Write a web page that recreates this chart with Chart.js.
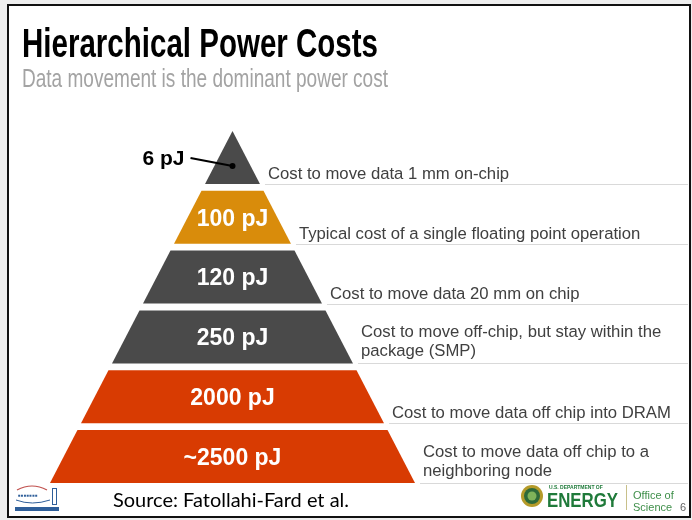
<!DOCTYPE html>
<html><head><meta charset="utf-8">
<script src="https://cdn.jsdelivr.net/npm/chart.js@4.4.1/dist/chart.umd.min.js"></script>
<style>html,body{margin:0;padding:0;background:#eeeeee;overflow:hidden}canvas{display:block}</style>
</head><body>
<canvas id="c" width="692" height="520"></canvas>
<script>
// ---- data (top of pyramid first) ----
const energyLabels = ['6 pJ', '100 pJ', '120 pJ', '250 pJ', '2000 pJ', '~2500 pJ'];
const energyValues = [6, 100, 120, 250, 2000, 2500];
const descriptions = [
  ['Cost to move data 1 mm on-chip'],
  ['Typical cost of a single floating point operation'],
  ['Cost to move data 20 mm on chip'],
  ['Cost to move off-chip, but stay within the', 'package (SMP)'],
  ['Cost to move data off chip into DRAM'],
  ['Cost to move data off chip to a', 'neighboring node']
];
const levelColors = ['#4a4a4a', '#d98c0b', '#4a4a4a', '#4a4a4a', '#d83b02', '#d83b02'];
const titleText = 'Hierarchical Power Costs';
const subtitleText = 'Data movement is the dominant power cost';
const sourceText = 'Source: Fatollahi-Fard et al.';

// ---- geometry of the pyramid in level units ----
const N = energyLabels.length;
const LEVEL_H = 0.886;
const APEX = (N - 1) + LEVEL_H;
function halfWidth(y) { return (APEX - y) / APEX; }

const datasets = energyLabels.map((lab, k) => {
  const b = N - 1 - k;
  const t = k === 0 ? APEX : b + LEVEL_H;
  return {
    label: lab + ' (' + energyValues[k] + ')',
    data: [
      {x: -halfWidth(b), y: b}, {x: halfWidth(b), y: b},
      {x: halfWidth(t), y: t}, {x: -halfWidth(t), y: t},
      {x: -halfWidth(b), y: b}
    ],
    showLine: true, fill: 'shape', tension: 0,
    backgroundColor: levelColors[k], borderColor: levelColors[k],
    borderWidth: 0, pointRadius: 0, pointHoverRadius: 0
  };
});

const slidePlugin = {
  id: 'slide',
  beforeDraw(chart) {
    const ctx = chart.ctx;
    ctx.save();
    ctx.fillStyle = '#eeeeee';
    ctx.fillRect(0, 0, 692, 520);
    ctx.fillStyle = '#ffffff';
    ctx.fillRect(8, 5, 682, 512);
    ctx.strokeStyle = '#111111';
    ctx.lineWidth = 2;
    ctx.strokeRect(8, 5, 682, 512);
    // title
    ctx.textBaseline = 'alphabetic';
    ctx.textAlign = 'left';
    ctx.fillStyle = '#000000';
    ctx.font = 'bold 41px "Liberation Sans", Arial, sans-serif';
    ctx.fillText(titleText, 22, 57, 356);
    ctx.fillStyle = '#a3a3a3';
    ctx.font = '26px "Liberation Sans", Arial, sans-serif';
    ctx.fillText(subtitleText, 22, 87, 366);
    ctx.restore();
  },
  afterDatasetsDraw(chart) {
    const ctx = chart.ctx;
    const xs = chart.scales.x, ys = chart.scales.y;
    ctx.save();
    ctx.textBaseline = 'middle';
    for (let k = 0; k < N; k++) {
      const b = N - 1 - k;
      const cx = xs.getPixelForValue(0);
      if (k > 0) {
        ctx.fillStyle = '#ffffff';
        ctx.textAlign = 'center';
        ctx.font = 'bold 23px "Liberation Sans", Arial, sans-serif';
        ctx.fillText(energyLabels[k], cx, ys.getPixelForValue(b + LEVEL_H / 2) + 2);
      } else {
        const dx = cx, dy = ys.getPixelForValue(b + 0.30);
        ctx.fillStyle = '#000000';
        ctx.beginPath(); ctx.arc(dx, dy, 3, 0, Math.PI * 2); ctx.fill();
        ctx.strokeStyle = '#000000'; ctx.lineWidth = 2;
        ctx.beginPath(); ctx.moveTo(dx, dy); ctx.lineTo(dx - 42, dy - 8); ctx.stroke();
        ctx.textAlign = 'right';
        ctx.font = 'bold 21px "Liberation Sans", Arial, sans-serif';
        ctx.fillText(energyLabels[k], dx - 48, dy - 7);
      }
      // description + underline
      const edge = xs.getPixelForValue(halfWidth(b));
      const by = Math.round(ys.getPixelForValue(b)) + 0.5;
      ctx.strokeStyle = '#d9d9d9'; ctx.lineWidth = 1;
      ctx.beginPath(); ctx.moveTo(edge + 5, by); ctx.lineTo(688, by); ctx.stroke();
      ctx.fillStyle = '#404040';
      ctx.textAlign = 'left';
      ctx.font = '16.7px "Liberation Sans", Arial, sans-serif';
      const lines = descriptions[k];
      if (lines.length === 1) {
        ctx.fillText(lines[0], edge + 8, by - 10);
      } else {
        ctx.fillText(lines[0], edge + 8, by - 31);
        ctx.fillText(lines[1], edge + 8, by - 12);
      }
    }
    ctx.restore();
  },
  afterDraw(chart) {
    const ctx = chart.ctx;
    ctx.save();
    // footer source
    ctx.textBaseline = 'alphabetic';
    ctx.textAlign = 'left';
    ctx.fillStyle = '#000000';
    ctx.font = '20px Lato, "Open Sans", sans-serif';
    ctx.fillText(sourceText, 113, 507, 236);
    // left lab logo (approximation)
    ctx.strokeStyle = '#c0504d'; ctx.lineWidth = 1.2;
    ctx.beginPath(); ctx.moveTo(17, 490); ctx.quadraticCurveTo(32, 482, 47, 490); ctx.stroke();
    ctx.fillStyle = '#2f5f9a';
    ctx.font = 'bold 8px "Liberation Sans", sans-serif';
    ctx.fillText('▪▪▪▪▪▪▪', 18, 498, 28);
    ctx.strokeStyle = '#2f5f9a'; ctx.lineWidth = 1;
    ctx.beginPath(); ctx.moveTo(16, 500); ctx.quadraticCurveTo(32, 506, 50, 500); ctx.stroke();
    ctx.strokeRect(52.5, 488.5, 4, 16);
    ctx.fillStyle = '#2f5f9a';
    ctx.fillRect(15, 507, 44, 4);
    // DOE seal
    ctx.fillStyle = '#b59b2a';
    ctx.beginPath(); ctx.arc(532, 496, 11, 0, Math.PI * 2); ctx.fill();
    ctx.fillStyle = '#2e6a3a';
    ctx.beginPath(); ctx.arc(532, 496, 8, 0, Math.PI * 2); ctx.fill();
    ctx.fillStyle = '#7fb35a';
    ctx.beginPath(); ctx.arc(532, 496, 4.5, 0, Math.PI * 2); ctx.fill();
    ctx.fillStyle = '#1f7a3a';
    ctx.font = 'bold 5px "Liberation Sans", sans-serif';
    ctx.fillText('U.S. DEPARTMENT OF', 549, 489, 60);
    ctx.font = 'bold 21px "Liberation Sans", sans-serif';
    ctx.fillText('ENERGY', 547, 507, 71);
    ctx.strokeStyle = '#c8c08a'; ctx.lineWidth = 1;
    ctx.beginPath(); ctx.moveTo(626.5, 485); ctx.lineTo(626.5, 510); ctx.stroke();
    ctx.fillStyle = '#3f8f4a';
    ctx.font = '11px "Liberation Sans", sans-serif';
    ctx.fillText('Office of', 633, 499);
    ctx.fillText('Science', 633, 511);
    ctx.fillStyle = '#666666';
    ctx.fillText('6', 680, 511);
    ctx.restore();
  }
};

new Chart(document.getElementById('c'), {
  type: 'scatter',
  data: { datasets },
  options: {
    responsive: false,
    animation: false,
    layout: { padding: { left: 50, right: 277, top: 131, bottom: 37 } },
    scales: {
      x: { type: 'linear', min: -1, max: 1, display: false },
      y: { type: 'linear', min: 0, max: APEX, display: false }
    },
    plugins: { legend: { display: false }, tooltip: { enabled: false } }
  },
  plugins: [slidePlugin]
});
</script>
</body></html>
